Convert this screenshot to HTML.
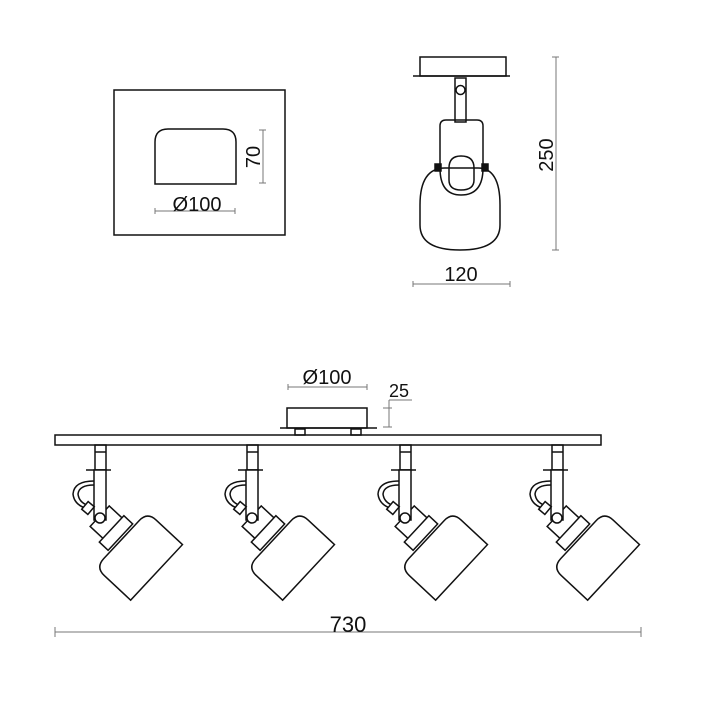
<!DOCTYPE html>
<html><head><style>body{margin:0;background:#fff}svg{display:block}</style></head><body>
<svg width="708" height="719" viewBox="0 0 708 719" xmlns="http://www.w3.org/2000/svg" font-family="Liberation Sans, sans-serif" fill="none" stroke="#111" stroke-width="1.5">
<!-- top-left box -->
<rect x="114" y="90" width="171" height="145"/>
<path d="M155,184 V142 Q155,129 168,129 H223 Q236,129 236,142 V184 Z"/>
<g stroke="#777" stroke-width="1"><line x1="263" y1="130" x2="263" y2="183"/><line x1="259" y1="130" x2="266" y2="130"/><line x1="259" y1="183" x2="266" y2="183"/>
<line x1="155" y1="211" x2="235" y2="211"/><line x1="155" y1="208" x2="155" y2="214"/><line x1="235" y1="208" x2="235" y2="214"/></g>
<text x="262" y="157" font-size="20" fill="#111" stroke="none" text-anchor="middle" transform="rotate(-90 262 157)" dy="-2">70</text>
<text x="197" y="211" font-size="20" fill="#111" stroke="none" text-anchor="middle">Ø100</text>
<!-- side view -->
<rect x="420" y="57" width="86" height="19"/>
<line x1="413" y1="76" x2="510" y2="76"/>
<rect x="455" y="78" width="11" height="44"/>
<circle cx="460.5" cy="90" r="4.5"/>
<path d="M440,168 V126 Q440,120 446,120 H477 Q483,120 483,126 V168"/>
<path d="M420,205 Q420,168 445,168 H478 Q500,168 500,205 V225 Q500,250 460,250 Q420,250 420,225 Z"/>
<path d="M449,168 Q449,156 461,156 Q474,156 474,168 V180 Q474,190 461,190 Q449,190 449,180 Z"/>
<path d="M440,168 Q440,195 461,195 Q483,195 483,168"/>
<rect x="435" y="164" width="6" height="7" fill="#111"/><rect x="482" y="164" width="6" height="7" fill="#111"/>
<g stroke="#777" stroke-width="1"><line x1="556" y1="57" x2="556" y2="250"/><line x1="552" y1="57" x2="559" y2="57"/><line x1="552" y1="250" x2="559" y2="250"/>
<line x1="413" y1="284" x2="510" y2="284"/><line x1="413" y1="281" x2="413" y2="287"/><line x1="510" y1="281" x2="510" y2="287"/></g>
<text x="555" y="155" font-size="20" fill="#111" stroke="none" text-anchor="middle" transform="rotate(-90 555 155)" dy="-2">250</text>
<text x="461" y="281" font-size="20" fill="#111" stroke="none" text-anchor="middle">120</text>
<!-- bottom -->
<text x="327" y="384" font-size="20" fill="#111" stroke="none" text-anchor="middle">Ø100</text>
<g stroke="#777" stroke-width="1"><line x1="288" y1="387" x2="367" y2="387"/><line x1="288" y1="384" x2="288" y2="390"/><line x1="367" y1="384" x2="367" y2="390"/>
<line x1="389" y1="400" x2="389" y2="427"/><line x1="389" y1="400" x2="412" y2="400"/><line x1="383" y1="408" x2="392" y2="408"/><line x1="383" y1="427" x2="392" y2="427"/></g>
<text x="389" y="397" font-size="18" fill="#111" stroke="none">25</text>
<rect x="287" y="408" width="80" height="20"/>
<line x1="280" y1="428" x2="377" y2="428"/>
<rect x="295" y="429" width="10" height="6"/><rect x="351" y="429" width="10" height="6"/>
<rect x="55" y="435" width="546" height="10"/>
<g id="lamp">
<rect x="95" y="445" width="11" height="25"/><line x1="95" y1="452" x2="106" y2="452"/>
<line x1="86" y1="470" x2="111" y2="470"/>
<g transform="translate(107,523) rotate(-47)"><rect x="-14" y="-10" width="28" height="20"/></g>
<rect x="94" y="470" width="12" height="50" fill="#fff"/>
<circle cx="100" cy="518" r="5" fill="#fff"/>
<path d="M94,481 Q74,481 73,494 Q74,504 85,508"/><path d="M94,485 Q79,485 78,494 Q79,502 87,505"/>
<g transform="translate(88,508) rotate(-50)"><rect x="-5" y="-4" width="10" height="8" fill="#fff"/></g>
<g transform="translate(116,533) rotate(-47)"><rect x="-18" y="-6" width="36" height="12" fill="#fff"/></g>
<g transform="translate(139,556) rotate(-47)"><path d="M-38,24 V-12 Q-38,-24 -26,-24 H26 Q38,-24 38,-12 V24 Z" fill="#fff"/></g>
</g>
<use href="#lamp" x="152"/><use href="#lamp" x="305"/><use href="#lamp" x="457"/>
<g stroke="#777" stroke-width="1"><line x1="55" y1="632" x2="641" y2="632"/><line x1="55" y1="627" x2="55" y2="637"/><line x1="641" y1="627" x2="641" y2="637"/></g>
<text x="348" y="632" font-size="22" fill="#111" stroke="none" text-anchor="middle">730</text>
</svg>
</body></html>
